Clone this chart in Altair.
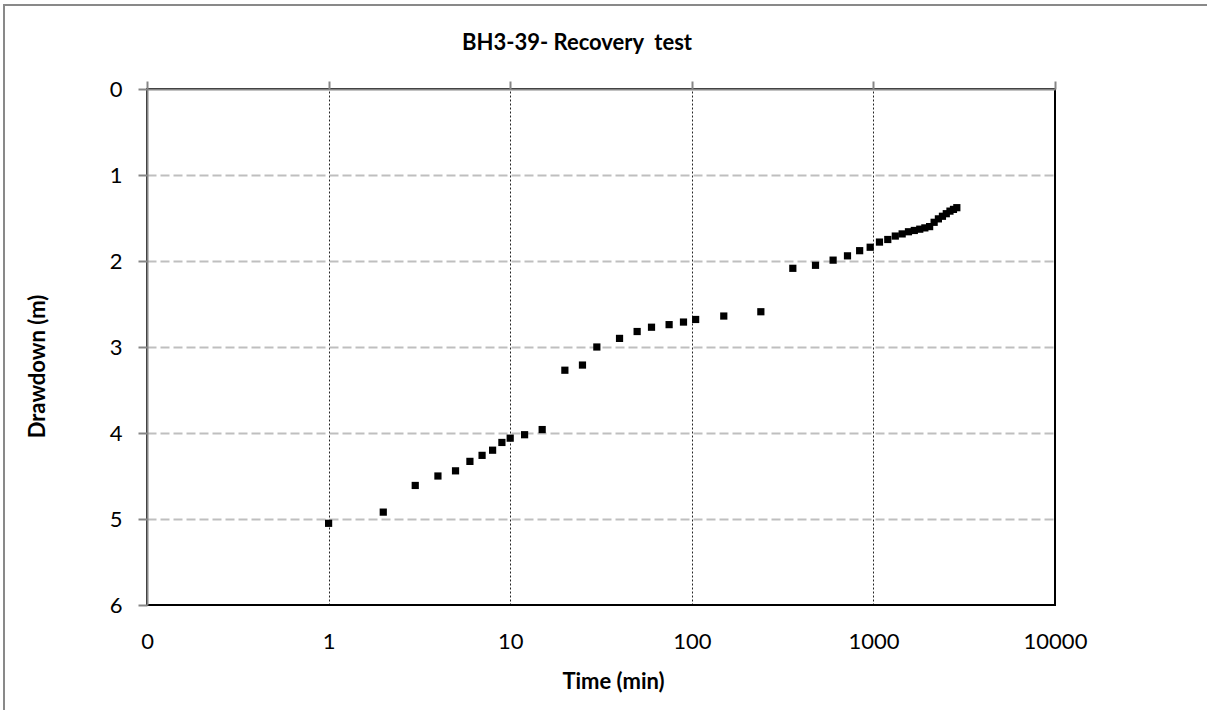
import altair as alt
import pandas as pd

time_min = [1, 2, 3, 4, 5, 6, 7, 8, 9, 10, 12, 15, 20, 25, 30, 40, 50, 60, 75, 90,
            105, 150, 240, 360, 480, 600, 720, 840, 960, 1080, 1200, 1320, 1440,
            1560, 1680, 1800, 1920, 2040, 2160, 2280, 2400, 2520, 2640, 2760, 2880]
drawdown_m = [5.05, 4.92, 4.61, 4.50, 4.44, 4.33, 4.26, 4.20, 4.11, 4.06, 4.02, 3.96,
              3.27, 3.21, 3.00, 2.90, 2.82, 2.77, 2.74, 2.71, 2.68, 2.64, 2.59, 2.085,
              2.05, 1.99, 1.94, 1.88, 1.84, 1.78, 1.75, 1.71, 1.685, 1.66, 1.645, 1.63,
              1.615, 1.60, 1.55, 1.51, 1.48, 1.45, 1.42, 1.40, 1.38]
x_ticks = [0.1, 1, 10, 100, 1000, 10000]
y_ticks = [0, 1, 2, 3, 4, 5, 6]
title_text = "BH3-39- Recovery\u00a0 test"

df = pd.DataFrame({"t": time_min, "s": drawdown_m})

FONT = "Lato"
W, H = 908, 516

xscale = alt.Scale(type="log", domain=[0.1, 10000])
yscale = alt.Scale(domain=[0, 6], reverse=True)

points = alt.Chart(df).mark_point(shape="square", filled=True, color="black",
                                  size=52, opacity=1).encode(
    x=alt.X("t:Q", scale=xscale,
            axis=alt.Axis(orient="bottom", values=x_ticks, title="Time (min)",
                          labelExpr="datum.value < 1 ? '0' : format(datum.value, 'd')",
                          ticks=False, domain=False, labelPadding=26,
                          labelFont=FONT, labelFontSize=22, labelColor="black",
                          labelFlush=False,
                          titleFont=FONT, titleFontSize=22, titleFontWeight="bold",
                          titleColor="black", titleX=466, titleY=83,
                          titleBaseline="alphabetic", titleAlign="center",
                          grid=True, gridColor="#000000", gridDash=[2, 2],
                          gridWidth=1,
                          gridOpacity=alt.condition("datum.value < 0.5 || datum.value > 5000",
                                                    alt.value(0), alt.value(0.85)))),
    y=alt.Y("s:Q", scale=yscale,
            axis=alt.Axis(orient="left", values=y_ticks, title="Drawdown (m)",
                          format="d", tickSize=9, tickColor="#868686", tickWidth=2,
                          domainColor="#868686", domainWidth=2, labelPadding=16,
                          labelFont=FONT, labelFontSize=22, labelColor="black",
                          labelFlush=False,
                          titleFont=FONT, titleFontSize=22, titleFontWeight="bold",
                          titleColor="black", titleAngle=-90, titleX=-110, titleY=277,
                          titleAlign="center", titleBaseline="middle",
                          grid=True, gridColor="#bfbfbf", gridDash=[9, 4], gridWidth=2,
                          gridOpacity=alt.condition("datum.value < 0.5 || datum.value > 5.5",
                                                    alt.value(0), alt.value(1)))),
)

top_axis = alt.Chart(df).mark_point(opacity=0).encode(
    x=alt.X("t:Q", scale=xscale,
            axis=alt.Axis(orient="top", values=x_ticks, labels=False, title=None,
                          tickSize=8, tickColor="#868686", tickWidth=2,
                          domainColor="#868686", domainWidth=2, grid=False)),
    y=alt.Y("s:Q", scale=yscale,
            axis=alt.Axis(orient="right", labels=False, ticks=False, domain=False,
                          grid=False, title=None)),
)

frame = alt.Chart(df).mark_rect(fill=None, stroke="#898989", strokeWidth=2).encode(
    x=alt.value(-143), x2=alt.value(1070), y=alt.value(-84), y2=alt.value(640)
)

title = alt.Chart(pd.DataFrame({"label": [title_text]})).mark_text(
    font=FONT, fontSize=22, fontWeight="bold", color="black",
    align="center", baseline="alphabetic"
).encode(text="label:N", x=alt.value(430), y=alt.value(-39))

chart = alt.layer(frame, points, top_axis, title).resolve_axis(
    x="independent", y="independent"
).properties(
    width=W, height=H,
    padding={"left": 147, "top": 89, "right": 152, "bottom": 105},
    autosize=alt.AutoSizeParams(type="none"),
    background="white",
).configure_view(stroke="black", strokeWidth=2)

chart.save("out.html", embed_options={"renderer": "svg", "actions": False})
